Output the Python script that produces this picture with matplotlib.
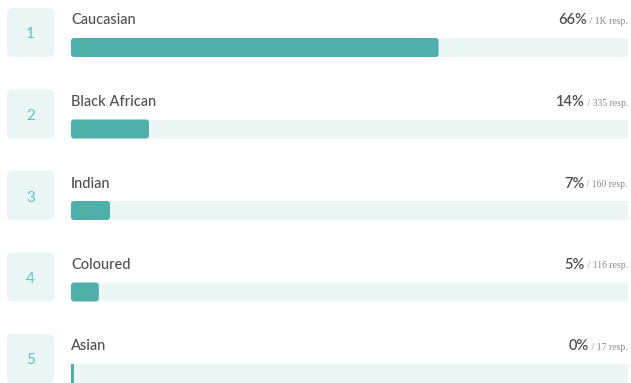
import matplotlib
matplotlib.use("Agg")
import matplotlib.pyplot as plt
from matplotlib.patches import FancyBboxPatch

# ethnicity breakdown of responses
groups = ["Caucasian", "Black African", "Indian", "Coloured", "Asian"]
shares = [66, 14, 7, 5, 0]              # percent of responses
resp_labels = ["1K", "335", "160", "116", "17"]

TEAL = "#4fb0aa"
TRACK = "#edf6f7"
BOX = "#eaf5f6"
NUM = "#63bfb8"
TEXT = "#505050"
SUB = "#8a8a8a"

plt.rcParams["font.family"] = ["Lato", "DejaVu Sans"]

W, H = 631, 383
fig = plt.figure(figsize=(W / 100, H / 100), dpi=100)
ax = fig.add_axes([0, 0, 1, 1])
ax.set_xlim(0, W)
ax.set_ylim(H, 0)
ax.axis("off")

track_x0, track_x1 = 71, 628
bar_h = 19
row_gap = 81.5

for i, (name, pct, resp) in enumerate(zip(groups, shares, resp_labels)):
    top = 38 + i * row_gap

    # rank badge
    ax.add_patch(FancyBboxPatch((7 + 5, top - 30 + 5), 47 - 10, 49 - 10,
                                boxstyle="round,pad=5", fc=BOX, ec="none"))
    ax.text(30.5, top - 3.5, str(i + 1), ha="center", va="center",
            fontsize=11, color=NUM)

    # label and value
    ax.text(track_x0, top - 17.5, name, ha="left", va="center",
            fontsize=10.5, color=TEXT, fontweight="medium")
    sub = ax.text(track_x1, top - 16.5, f" / {resp} resp.", ha="right",
                  va="center", fontsize=7, color=SUB,
                  family=["Liberation Serif", "DejaVu Serif"])
    fig.canvas.draw()
    bb = sub.get_window_extent()
    ax.text(track_x1 - bb.width, top - 17.5, f"{pct}%", ha="right",
            va="center", fontsize=10.5, color=TEXT, fontweight="semibold")

    # track and fill
    ax.add_patch(FancyBboxPatch((track_x0 + 2, top + 2),
                                track_x1 - track_x0 - 4, bar_h - 4,
                                boxstyle="round,pad=2", fc=TRACK, ec="none"))
    fill_w = (track_x1 - track_x0) * pct / 100
    if fill_w >= 6:
        ax.add_patch(FancyBboxPatch((track_x0 + 3, top + 3), fill_w - 6,
                                    bar_h - 6, boxstyle="round,pad=3",
                                    fc=TEAL, ec="none"))
    else:
        ax.add_patch(plt.Rectangle((track_x0, top), max(fill_w, 2.5), bar_h,
                                   fc=TEAL, ec="none"))

fig.savefig("out.png", dpi=100)
